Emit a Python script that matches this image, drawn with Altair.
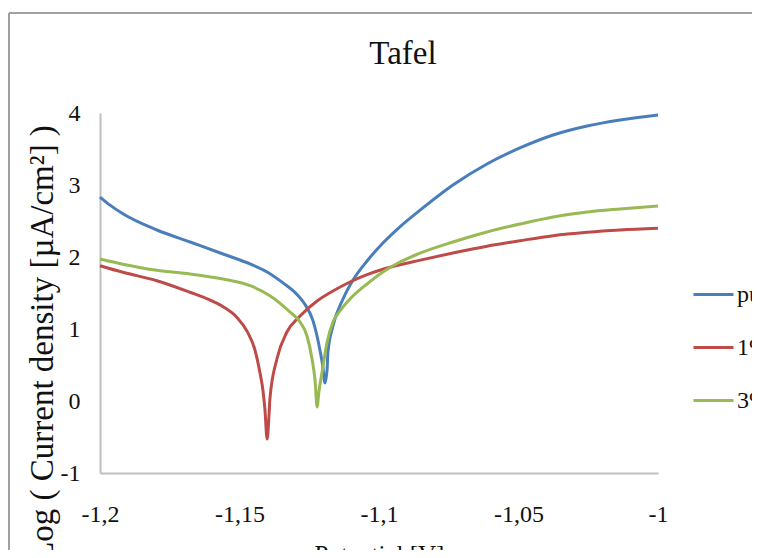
import altair as alt
import pandas as pd

# Potential [V] and log current density readings for each series
pure_E = [-1.2000, -1.1964, -1.1918, -1.1796, -1.1677, -1.1559, -1.1462, -1.1401, -1.1344,
          -1.1294, -1.1265, -1.1237, -1.1211, -1.1201, -1.1194, -1.1186, -1.1183, -1.1165,
          -1.1129, -1.1093, -1.1043, -1.0986, -1.0925, -1.0853, -1.0735, -1.0613, -1.0495,
          -1.0376, -1.0254, -1.0136, -1.0000]
pure_V = [2.833, 2.720, 2.600, 2.375, 2.208, 2.042, 1.903, 1.792, 1.640,
          1.480, 1.340, 1.120, 0.694, 0.472, 0.250, 0.444, 0.681, 1.042,
          1.417, 1.681, 1.944, 2.194, 2.420, 2.650, 3.000, 3.292, 3.514,
          3.694, 3.819, 3.903, 3.972]

p1_E = [-1.2000, -1.1918, -1.1796, -1.1677, -1.1616, -1.1559, -1.1509, -1.1473, -1.1444,
        -1.1427, -1.1416, -1.1409, -1.1401, -1.1394, -1.1391, -1.1366, -1.1330, -1.1283,
        -1.1222, -1.1165, -1.1104, -1.1043, -1.0986, -1.0925, -1.0860, -1.0735, -1.0613,
        -1.0495, -1.0376, -1.0254, -1.0136, -1.0000]
p1_V = [1.879, 1.788, 1.671, 1.510, 1.420, 1.310, 1.160, 0.970, 0.700,
        0.400, 0.150, -0.110, -0.528, -0.181, 0.028, 0.583, 0.958, 1.181,
        1.389, 1.528, 1.653, 1.755, 1.830, 1.893, 1.950, 2.055, 2.150,
        2.226, 2.296, 2.343, 2.375, 2.399]

p3_E = [-1.2000, -1.1918, -1.1796, -1.1677, -1.1559, -1.1462, -1.1391, -1.1319, -1.1283,
        -1.1258, -1.1240, -1.1229, -1.1222, -1.1215, -1.1204, -1.1186, -1.1165, -1.1140,
        -1.1104, -1.1043, -1.0986, -1.0925, -1.0860, -1.0735, -1.0613, -1.0495, -1.0376,
        -1.0254, -1.0136, -1.0000]
p3_V = [1.972, 1.900, 1.815, 1.764, 1.694, 1.601, 1.463, 1.236, 1.097,
        0.903, 0.583, 0.278, -0.083, 0.139, 0.403, 0.819, 1.097, 1.250,
        1.417, 1.625, 1.792, 1.931, 2.042, 2.208, 2.347, 2.458, 2.556,
        2.625, 2.667, 2.708]

series_names = ["pure", "1%", "3%"]
series_colors = ["#4A7EBB", "#BE4B48", "#98B954"]
x_ticks = [-1.2, -1.15, -1.1, -1.05, -1.0]
y_ticks = [-1, 0, 1, 2, 3, 4]

rows = []
for name, es, vs in zip(series_names, [pure_E, p1_E, p3_E], [pure_V, p1_V, p3_V]):
    for e, v in zip(es, vs):
        rows.append({"E": e, "V": v, "series": name})
df = pd.DataFrame(rows)

FONT = "Liberation Serif"

lines = alt.Chart(df).mark_line(strokeWidth=3, interpolate="monotone").encode(
    x=alt.X("E:Q",
            scale=alt.Scale(domain=[-1.2, -1.0], nice=False, zero=False),
            axis=alt.Axis(values=x_ticks,
                          labelExpr="replace(toString(datum.value), '.', ',')",
                          title="Potential [V]", grid=False, ticks=False, tickSize=0,
                          domainColor="#bfbfbf", domainWidth=2,
                          labelFont=FONT, labelFontSize=24, labelColor="#111111",
                          labelPadding=29, labelFlush=False,
                          titleFont=FONT, titleFontSize=25, titleFontWeight="normal",
                          titleColor="#111111", titleX=279, titleY=69,
                          titleBaseline="top", titleAlign="center")),
    y=alt.Y("V:Q",
            scale=alt.Scale(domain=[-1, 4], nice=False, zero=False),
            axis=alt.Axis(values=y_ticks,
                          labelExpr="toString(datum.value)",
                          title="Log ( Current density [µA/cm²] )",
                          grid=False, ticks=False, tickSize=0,
                          domainColor="#bfbfbf", domainWidth=2,
                          labelFont=FONT, labelFontSize=24, labelColor="#111111",
                          labelPadding=20, labelFlush=False,
                          titleFont=FONT, titleFontSize=33, titleFontWeight="normal",
                          titleColor="#111111", titleX=-58, titleY=230,
                          titleAngle=270, titleAlign="center", titleBaseline="middle")),
    color=alt.Color("series:N",
                    scale=alt.Scale(domain=series_names, range=series_colors),
                    legend=alt.Legend(title=None, orient="none", legendX=592, legendY=160,
                                      symbolType="stroke", symbolStrokeWidth=3,
                                      symbolSize=1600, rowPadding=19, labelOffset=2,
                                      labelFont=FONT, labelFontSize=24,
                                      labelColor="#111111")),
)

frame_top = alt.Chart(df).mark_rule(color="#a0a0a0", strokeWidth=2).encode(
    x=alt.value(-91), x2=alt.value(700), y=alt.value(-100)
)
frame_left = alt.Chart(df).mark_rule(color="#a0a0a0", strokeWidth=2).encode(
    x=alt.value(-91), y=alt.value(-100), y2=alt.value(500)
)

chart = alt.layer(frame_top, frame_left, lines).properties(
    width=558, height=360,
    title=alt.TitleParams("Tafel", font=FONT, fontSize=33, fontWeight="normal",
                          color="#111111", anchor="middle", frame="group", dx=24,
                          offset=-85, baseline="alphabetic"),
    autosize=alt.AutoSizeParams(type="none"),
    padding={"left": 92, "top": 105, "right": 94, "bottom": 77},
    background="white",
).configure_view(stroke=None)

chart.save("out.html", embed_options={"renderer": "svg", "actions": False})
